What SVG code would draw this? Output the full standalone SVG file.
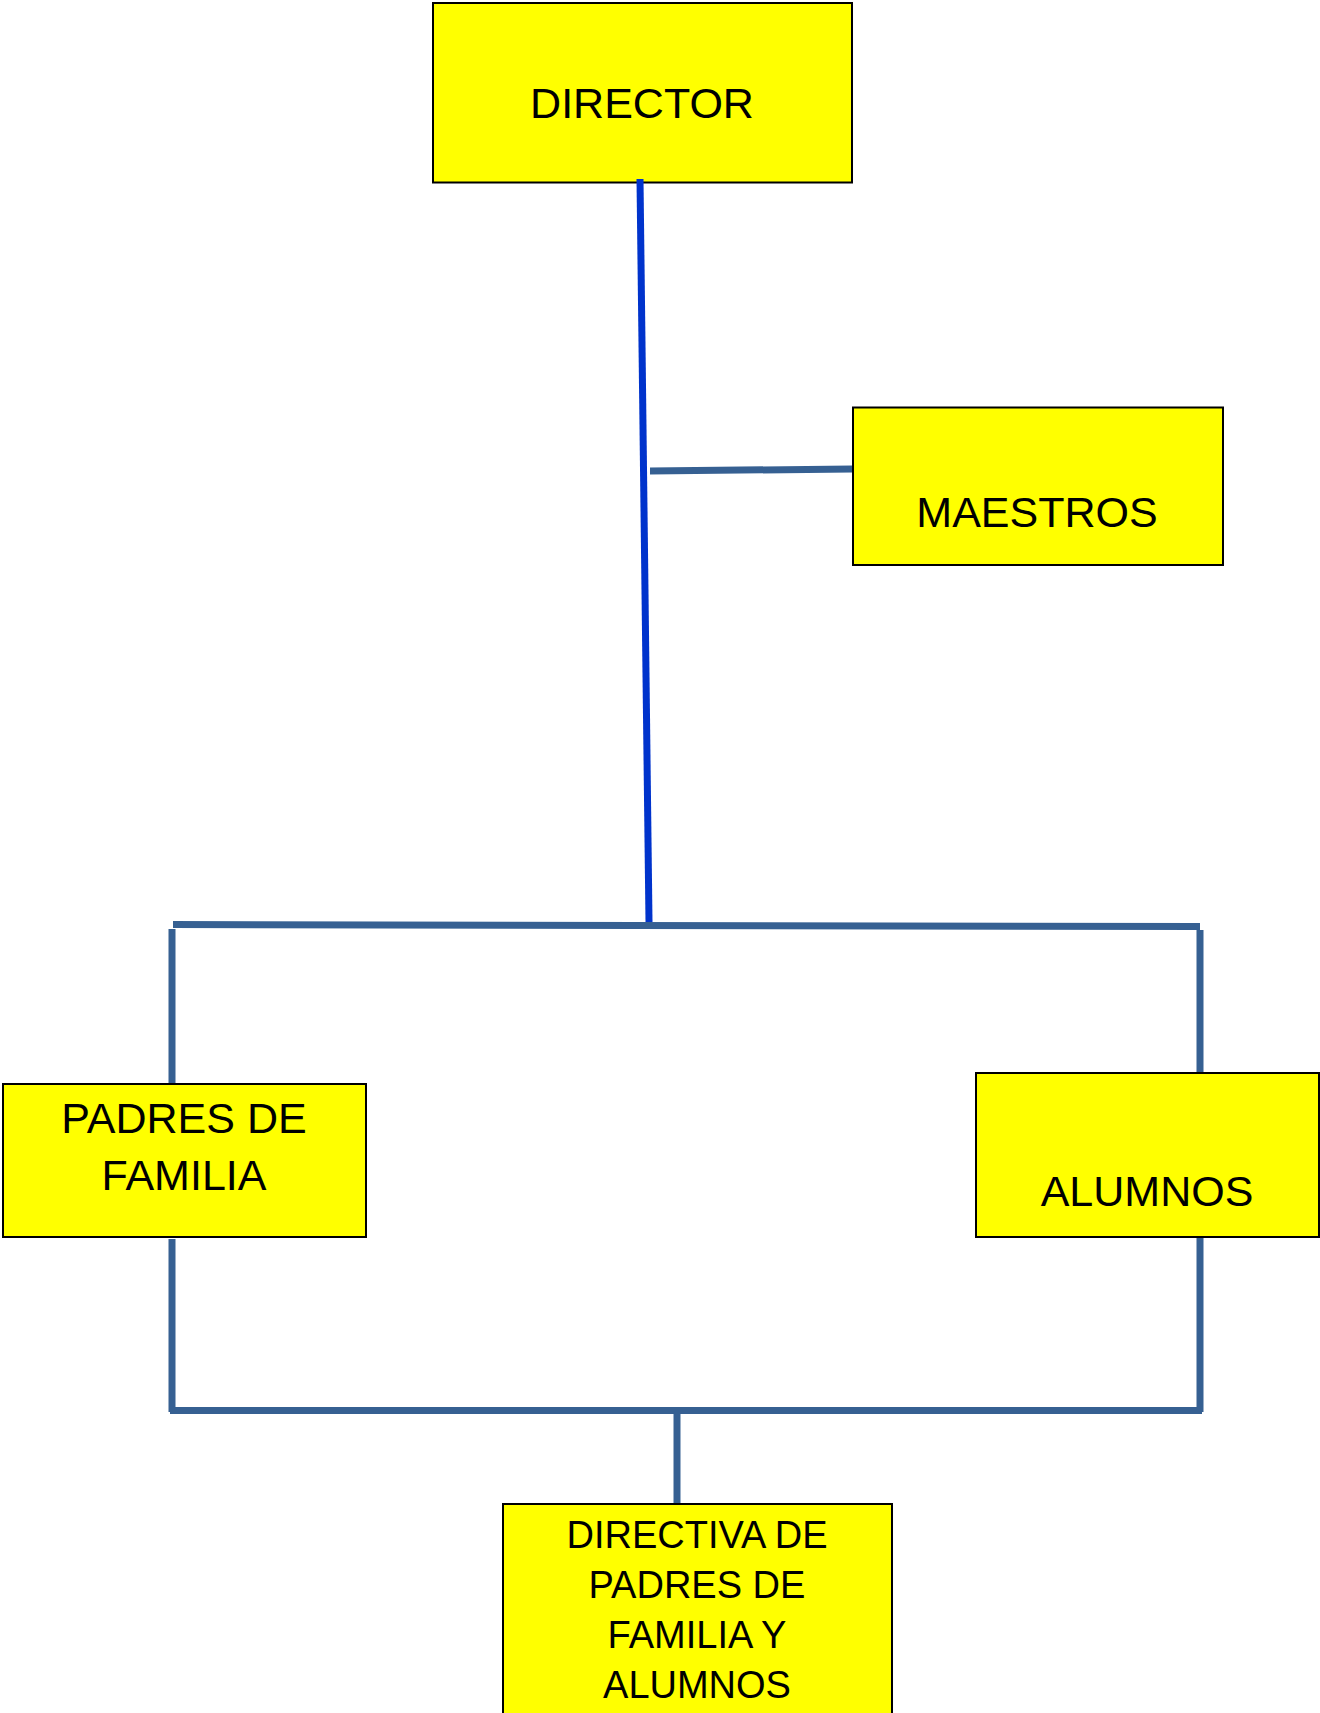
<svg xmlns="http://www.w3.org/2000/svg" width="1320" height="1713" viewBox="0 0 1320 1713">
<style>
.box{fill:#FFFF00;stroke:#000;stroke-width:2}
.t{font-family:"Liberation Sans",Arial,sans-serif;font-size:43px;fill:#000;text-anchor:middle}
.t2{font-family:"Liberation Sans",Arial,sans-serif;font-size:38px;fill:#000;text-anchor:middle}
.c{stroke:#366092;stroke-width:7;fill:none}
.b{stroke:#0033CC;stroke-width:7;fill:none}
</style>
<rect width="1320" height="1713" fill="#fff"/>
<g id="director">
<rect class="box" x="433" y="3" width="419" height="179.5"/>
<text class="t" x="642" y="118">DIRECTOR</text>
</g>
<g id="maestros">
<rect class="box" x="853" y="407.5" width="370" height="157.5"/>
<text class="t" x="1037" y="527">MAESTROS</text>
</g>
<g id="padres">
<rect class="box" x="3" y="1084" width="363" height="153"/>
<text class="t" x="184" y="1133">PADRES DE</text>
<text class="t" x="184" y="1190">FAMILIA</text>
</g>
<g id="alumnos">
<rect class="box" x="976" y="1073" width="343" height="164"/>
<text class="t" x="1147" y="1206">ALUMNOS</text>
</g>
<g id="directiva">
<rect class="box" x="503" y="1504" width="389" height="215"/>
<text class="t2" x="697" y="1548">DIRECTIVA DE</text>
<text class="t2" x="697" y="1598">PADRES DE</text>
<text class="t2" x="697" y="1648">FAMILIA Y</text>
<text class="t2" x="697" y="1698">ALUMNOS</text>
</g>
<g id="connectors">
<line class="b" x1="640" y1="179" x2="649" y2="922"/>
<line class="c" x1="650" y1="471" x2="852" y2="469"/>
<line class="c" x1="173" y1="924.5" x2="1200" y2="926.5"/>
<line class="c" x1="172" y1="929" x2="172" y2="1083"/>
<line class="c" x1="172" y1="1239" x2="172" y2="1412"/>
<line class="c" x1="1200" y1="930" x2="1200" y2="1072"/>
<line class="c" x1="1200" y1="1238" x2="1200" y2="1412"/>
<line class="c" x1="170" y1="1410.5" x2="1202" y2="1410.5"/>
<line class="c" x1="677" y1="1412" x2="677" y2="1503"/>
</g>
</svg>
